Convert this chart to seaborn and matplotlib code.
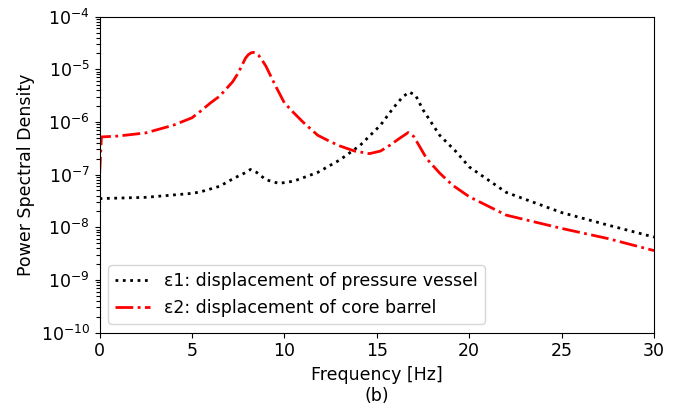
import matplotlib
matplotlib.use("Agg")
import matplotlib.pyplot as plt
from matplotlib.ticker import NullFormatter
import seaborn as sns
import pandas as pd

# --- data ---
freq_pv = [0.0, 2.5, 5.0, 5.46, 6.5, 7.26, 7.8, 8.16, 8.5, 9.0, 9.7, 10.5, 11.8,
           13.0, 14.1, 15.2, 15.9, 16.4, 16.76, 17.1, 17.5, 18.4, 19.3, 20.0, 22.0,
           25.0, 27.5, 30.0]
psd_pv = [3.5e-8, 3.7e-8, 4.4e-8, 4.7e-8, 6.0e-8, 8.5e-8, 1.05e-7, 1.25e-7,
          1.1e-7, 8.0e-8, 6.8e-8, 7.5e-8, 1.1e-7, 1.9e-7, 3.6e-7, 8.7e-7, 1.86e-6,
          3.0e-6, 3.7e-6, 3.2e-6, 1.7e-6, 5.6e-7, 2.7e-7, 1.4e-7, 4.6e-8, 1.9e-8,
          1.1e-8, 6.5e-9]

freq_cb = [0.0, 0.1, 1.0, 2.5, 4.0, 5.0, 5.46, 6.0, 6.5, 7.2, 7.5, 7.9, 8.05, 8.2,
           8.32, 8.45, 8.6, 8.79, 9.0, 9.5, 10.0, 10.5, 11.0, 11.8, 12.5, 13.0, 13.8,
           14.6, 15.2, 15.7, 16.2, 16.7, 17.0, 17.3, 17.7, 18.4, 19.1, 20.0, 22.0,
           25.0, 27.5, 30.0]
psd_cb = [1.0e-7, 5.2e-7, 5.4e-7, 6.2e-7, 8.7e-7, 1.2e-6, 1.6e-6, 2.3e-6, 3.1e-6,
          5.8e-6, 8.5e-6, 1.64e-5, 1.9e-5, 2.06e-5, 2.1e-5, 2.05e-5, 1.85e-5, 1.5e-5,
          1.15e-5, 5.0e-6, 2.3e-6, 1.5e-6, 1.0e-6, 5.6e-7, 4.2e-7, 3.5e-7, 2.8e-7,
          2.5e-7, 2.8e-7, 3.6e-7, 4.8e-7, 6.3e-7, 5.3e-7, 3.5e-7, 2.0e-7, 1.07e-7,
          6.3e-8, 3.8e-8, 1.7e-8, 9.5e-9, 6.1e-9, 3.6e-9]

label_pv = "\u03b51: displacement of pressure vessel"
label_cb = "\u03b52: displacement of core barrel"

x_ticks = [0, 5, 10, 15, 20, 25, 30]
y_major = [1e-10, 1e-9, 1e-8, 1e-7, 1e-6, 1e-5, 1e-4]
y_minor = [m * d for d in y_major[:-1] for m in range(2, 10)]

df_pv = pd.DataFrame({"f": freq_pv, "psd": psd_pv})
df_cb = pd.DataFrame({"f": freq_cb, "psd": psd_cb})

plt.rcParams["font.family"] = ["DejaVu Sans"]
plt.rcParams["font.size"] = 12.5

fig = plt.figure(figsize=(6.82, 4.07), dpi=100)
ax = fig.add_axes([0.146, 0.183, 0.813, 0.776])

sns.lineplot(data=df_pv, x="f", y="psd", ax=ax, color="black", linestyle=":",
             linewidth=2, label=label_pv, sort=False)
sns.lineplot(data=df_cb, x="f", y="psd", ax=ax, color="red", linestyle="-.",
             linewidth=2, label=label_cb, sort=False)

ax.set_yscale("log")
ax.set_xlim(0, 30)
ax.set_ylim(1e-10, 1e-4)
ax.set_xticks(x_ticks)
ax.set_yticks(y_major)
ax.set_yticks(y_minor, minor=True)
ax.yaxis.set_minor_formatter(NullFormatter())
ax.tick_params(axis="y", which="minor", left=True, length=3, width=0.8)
ax.set_xlabel("Frequency [Hz]\n(b)")
ax.set_ylabel("Power Spectral Density")
ax.legend(loc="lower left")

fig.savefig("out.png", dpi=100)
